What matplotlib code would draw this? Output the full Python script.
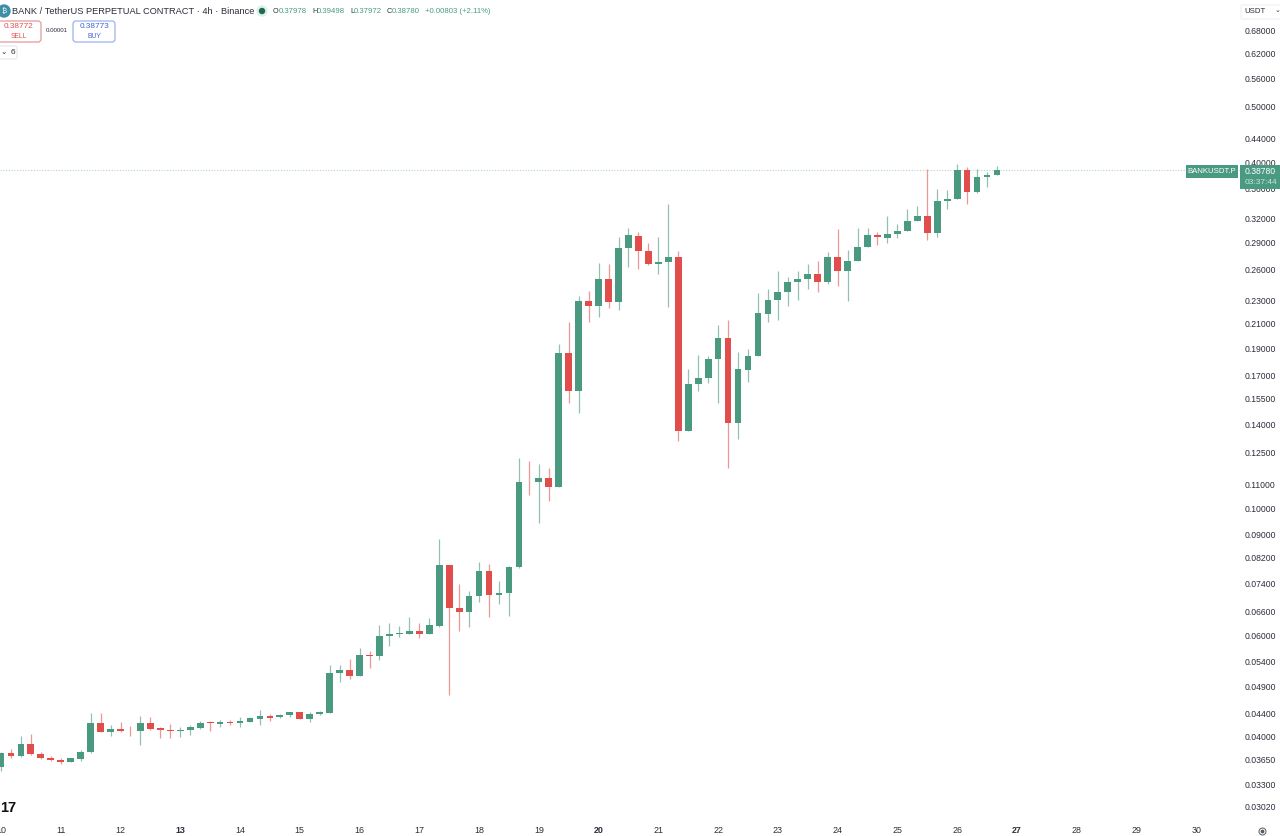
import matplotlib
matplotlib.use('Agg')
import matplotlib.pyplot as plt
from matplotlib.patches import Rectangle, FancyBboxPatch, Circle
from matplotlib.ticker import NullLocator
from matplotlib.transforms import IdentityTransform

plt.rcParams['font.family'] = ['Liberation Sans', 'DejaVu Sans']

W, H = 1280, 836
GREEN = '#4a9a82'
RED = '#e04d4a'
GREEN_WICK = '#93c0b1'
RED_WICK = '#ee9795'
TEXT = '#2a2e39'

# 4h candles, first one is the 10th 00:00
opens = [.03545, .03752, .03701, .03890, .03741, .03681, .03652, .03619, .03662, .03767,
         .04231, .04075, .04136, .04103, .04091, .04231, .04147, .04114, .04091, .04114,
         .04147, .04241, .04219, .04241, .04224, .04253, .04299, .04351, .04333, .04362,
         .04415, .04304, .04386, .04409, .05161, .05238, .05108, .05562, .05540, .05986,
         .06051, .06051, .06124, .06034, .06248, .07978, .06707, .06601, .07032, .07779,
         .07055, .07112, .07905, .1113, .1109, .1130, .1091, .1867, .1602, .2294,
         .2254, .2506, .2285, .2837, .2982, .2803, .2667, .2685, .2737, .1365,
         .1647, .1689, .1820, .1978, .1405, .1744, .1842, .2183, .2303, .2379,
         .2479, .2509, .2563, .2479, .2743, .2590, .2696, .2851, .2994, .2957,
         .3008, .3037, .3165, .3233, .3016, .3433, .3457, .3886, .3551, .3775,
         .37978]
highs = [.03757, .03817, .04020, .04049, .03767, .03711, .03671, .03671, .03802, .04398,
         .04405, .04202, .04248, .04185, .04345, .04327, .04164, .04219, .04164, .04202,
         .04258, .04270, .04287, .04282, .04340, .04327, .04458, .04380, .04386, .04427,
         .04422, .04422, .04433, .05329, .05329, .05474, .05714, .05652, .06255, .06324,
         .06248, .06459, .06324, .06443, .08842, .07978, .07373, .07169, .08051, .08000,
         .07483, .07936, .1224, .1210, .1196, .1173, .1934, .2114, .2343, .2385,
         .2675, .2664, .2972, .3074, .3032, .2902, .2972, .3388, .2806, .1747,
         .1852, .1844, .2083, .2128, .1874, .1892, .2369, .2408, .2590, .2532,
         .2590, .2661, .2693, .2792, .3063, .2818, .3078, .3078, .3029, .3229,
         .3127, .3319, .3364, .3892, .3593, .3583, .3978, .3933, .3892, .3855,
         .39498]
lows = [.03485, .03681, .03686, .03722, .03667, .03637, .03594, .03619, .03627, .03752,
        .04075, .04010, .04081, .04010, .03874, .04114, .03977, .03984, .03994, .04032,
        .04131, .04103, .04157, .04190, .04157, .04241, .04190, .04270, .04316, .04327,
        .04299, .04253, .04368, .04400, .04986, .05038, .05108, .05281, .05452, .05751,
        .05979, .06051, .05947, .06034, .06207, .04725, .06117, .06207, .06870, .06459,
        .06816, .06495, .07883, .1054, .09428, .1031, .1091, .1527, .1465, .2111,
        .2151, .2236, .2215, .2635, .2611, .2654, .2553, .2245, .1312, .1365,
        .1603, .1654, .1525, .1175, .1318, .1659, .1842, .2108, .2131, .2254,
        .2309, .2408, .2382, .2460, .2435, .2299, .2696, .2851, .2871, .2902,
        .2953, .3037, .3165, .2933, .2965, .3319, .3457, .3388, .3537, .3630,
        .37972]
closes = [.03752, .03701, .03890, .03737, .03677, .03648, .03623, .03671, .03772, .04231,
          .04081, .04136, .04091, .04091, .04231, .04136, .04114, .04091, .04119, .04157,
          .04231, .04231, .04248, .04231, .04265, .04316, .04351, .04321, .04368, .04415,
          .04304, .04392, .04415, .05169, .05238, .05108, .05547, .05540, .05996, .06044,
          .06068, .06124, .06034, .06255, .07978, .06707, .06601, .07041, .07779, .07065,
          .07124, .07914, .1111, .1109, .1130, .1091, .1867, .1602, .2294, .2254,
          .2506, .2285, .2837, .2989, .2806, .2667, .2689, .2737, .1365, .1647,
          .1689, .1820, .1978, .1405, .1747, .1842, .2186, .2303, .2379, .2482,
          .2512, .2563, .2479, .2743, .2590, .2696, .2855, .2994, .2962, .3008,
          .3037, .3169, .3233, .3020, .3433, .3460, .3886, .3555, .3775, .3797,
          .38780]

day_labels = [str(d) for d in range(10, 31)]
bold_days = ['13', '20', '27']
price_ticks = [.68, .62, .56, .50, .44, .40, .36, .32, .29, .26, .23, .21, .19, .17, .155,
               .14, .125, .11, .10, .09, .082, .074, .066, .060, .054, .049, .044, .040,
               .0365, .033, .0302]

last_price = 0.38780


def label(px, py, s, size, color=TEXT, ha='left', **kw):
    return fig.text(px / W, 1 - py / H, s, fontsize=size, color=color, ha=ha, va='center', zorder=8, **kw)


def screen(patch):
    # overlay widgets are placed in image pixels, y counted from the bottom
    patch.set_transform(IdentityTransform())
    fig.add_artist(patch)
    patch.set_transform(IdentityTransform())
    return patch


fig = plt.figure(figsize=(W / 100, H / 100), dpi=100, facecolor='white')

# price pane, everything left of the axis strip
ax = fig.add_axes([0, 1 - 823 / H, 1240 / W, 823 / H])
ax.set_yscale('log')
ax.set_xlim(-0.1, 124.4)
ax.set_ylim(0.02832, 0.7672)

for i in range(len(opens)):
    up = closes[i] >= opens[i]
    ax.vlines(i, lows[i], highs[i], color=GREEN_WICK if up else RED_WICK, lw=0.9, zorder=2)
    low_body = min(opens[i], closes[i])
    ax.bar(i, abs(closes[i] - opens[i]), width=0.68, bottom=low_body,
           color=GREEN if up else RED, linewidth=0, zorder=3)

ax.axhline(last_price, color='#b5d5ca', lw=0.8, ls=(0, (1, 1.5)), zorder=1)

for side in ax.spines.values():
    side.set_visible(False)

ax.yaxis.tick_right()
ax.yaxis.set_minor_locator(NullLocator())
ax.set_yticks(price_ticks)
ax.set_yticklabels([f'{p:.5f}' for p in price_ticks], fontsize=6.2, color=TEXT)
ax.tick_params(axis='y', length=0, pad=3.6)
ax.set_xticks(range(0, 6 * len(day_labels), 6))
ax.set_xticklabels(day_labels, fontsize=6.4, color=TEXT)
ax.tick_params(axis='x', length=0, pad=2)
ax.xaxis.set_minor_locator(NullLocator())
for t in ax.get_xticklabels():
    if t.get_text() in bold_days:
        t.set_fontweight('bold')

# header
screen(Circle((4, H - 11), 6, color='#3f8fa8', zorder=7))
label(4, 11.5, '₿', 5, 'white', ha='center')
label(12, 11.5, 'BANK / TetherUS PERPETUAL CONTRACT · 4h · Binance', 6.7)
screen(Circle((262, H - 11), 5, color='#dff0ea', zorder=7))
screen(Circle((262, H - 11), 2.5, color='#1d6b55', zorder=8))

ohlc_text = [(273, 'O', TEXT), (279, '0.37978', GREEN), (312, 'H', TEXT), (317, '0.39498', GREEN),
             (350, 'L', TEXT), (354, '0.37972', GREEN), (387, 'C', TEXT), (392, '0.38780', GREEN),
             (425, '+0.00803 (+2.11%)', GREEN)]
for px, s, col in ohlc_text:
    label(px, 11.5, s, 5.2 if len(s) == 1 else 5.6, col)

# sell / buy buttons
for x0, x1, edge, price, name in [(-3, 41, '#e79a98', '0.38772', 'SELL'), (73, 115, '#9db2f0', '0.38773', 'BUY')]:
    screen(FancyBboxPatch((x0, H - 42), x1 - x0, 21, boxstyle='round,pad=0,rounding_size=3',
                          fc='white', ec=edge, lw=0.9, zorder=7))
    col = RED if name == 'SELL' else '#3f63d8'
    label((x0 + x1) / 2, 27, price, 5.9, col, ha='center')
    label((x0 + x1) / 2, 36, name, 4.9, col, ha='center')
label(57, 31, '0.00001', 4.4, TEXT, ha='center')

# collapsed indicators box
screen(FancyBboxPatch((-4, H - 59), 21, 13, boxstyle='round,pad=0,rounding_size=2',
                      fc='white', ec='#e6e7ea', lw=0.8, zorder=7))
label(3.5, 52, '⌄', 5.5, TEXT, ha='center')
label(12.5, 53, '6', 6, TEXT, ha='center')

# currency box on top of the scale
screen(FancyBboxPatch((1241, H - 19), 45, 14, boxstyle='round,pad=0,rounding_size=2',
                      fc='white', ec='#eeeff2', lw=0.8, zorder=7))
label(1244, 11.5, 'USDT', 5.6)
label(1277, 10.5, '⌄', 5, TEXT, ha='center')

# last price tags, drawn over the axis labels
screen(Rectangle((1186, H - 178), 52, 13, color=GREEN, lw=0, zorder=7))
screen(Rectangle((1240, H - 189), 40, 24, color=GREEN, lw=0, zorder=7))
label(1212, 171.5, 'BANKUSDT.P', 5.6, 'white', ha='center')
label(1245, 171, '0.38780', 6.2, 'white')
label(1245, 182, '03:37:44', 6.0, '#c9e3da')

# logo cut off by the left edge and the settings glyph
label(0, 807.5, '17', 10.5, '#111111', fontweight='bold')
screen(Circle((1262.5, H - 831.5), 3.5, fc='white', ec='#555a66', lw=0.7, zorder=7))
screen(Circle((1262.5, H - 831.5), 1.2, color='#555a66', zorder=8))

fig.savefig('out.png', dpi=100)
